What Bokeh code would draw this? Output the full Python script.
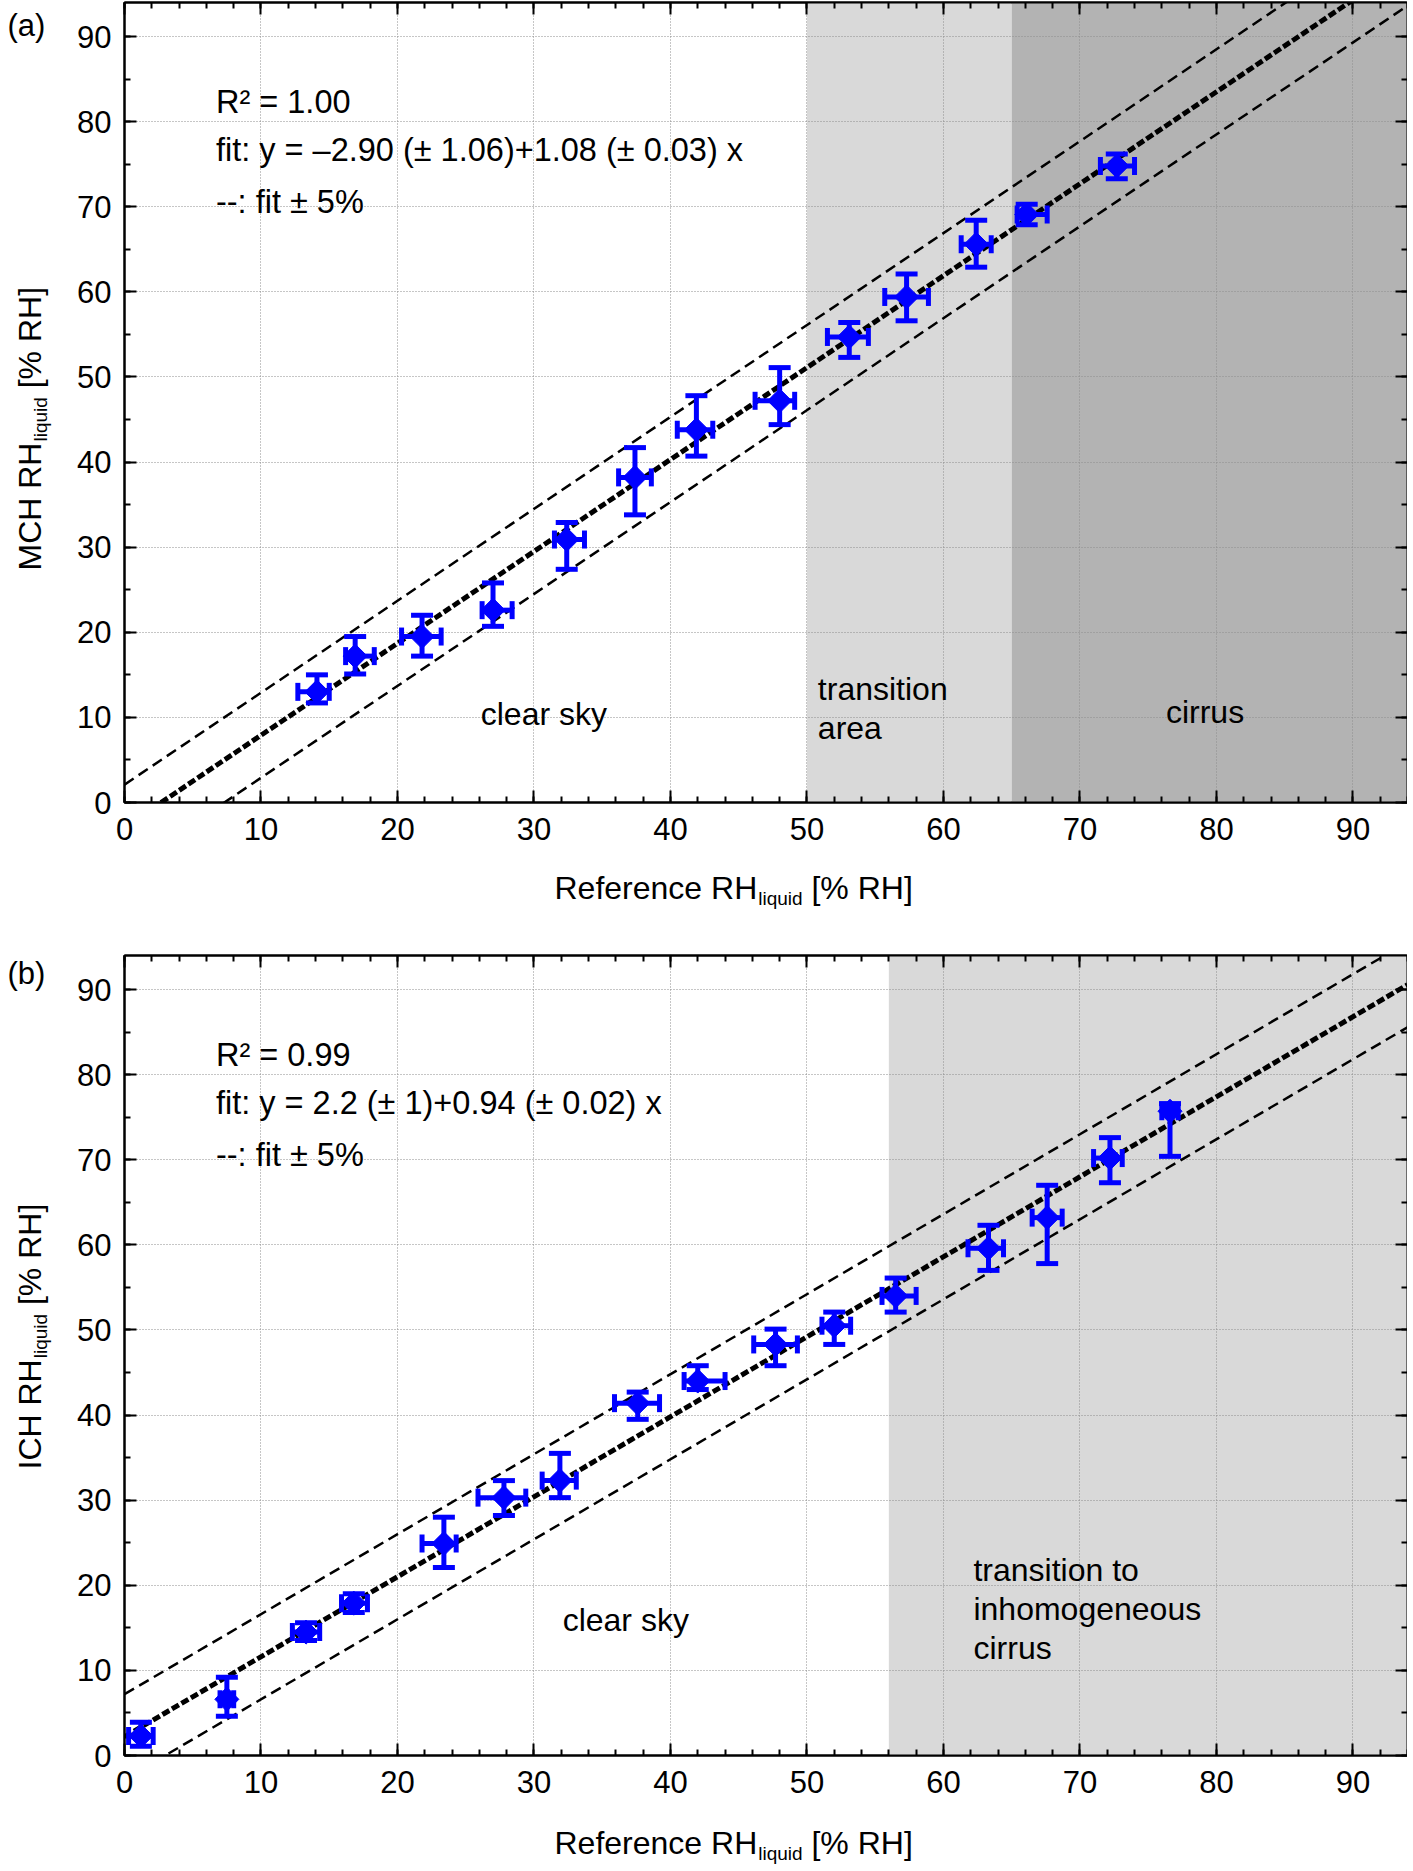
import numpy as np
from bokeh.plotting import figure
from bokeh.models import Label, LinearAxis, SingleIntervalTicker, CustomJSTickFormatter, Range1d
from bokeh.core.properties import value
from bokeh.layouts import column, row
from bokeh.embed import file_html
from bokeh.resources import INLINE

# ---------------- data: panel (a) MCH ----------------
a_x    = [14.1, 16.9, 21.8, 27.0, 32.4, 37.4, 41.9, 48.0, 53.1, 57.3, 62.4, 66.1, 72.7]
a_x_lo = [12.7, 16.2, 20.3, 26.2, 31.5, 36.2, 40.5, 46.2, 51.5, 55.7, 61.3, 65.4, 71.5]
a_x_hi = [15.0, 18.3, 23.2, 28.4, 33.7, 38.6, 43.1, 49.1, 54.5, 58.9, 63.5, 67.6, 74.0]
a_y    = [13.0, 17.2, 19.5, 22.6, 30.9, 38.2, 43.8, 47.2, 54.7, 59.4, 65.6, 69.1, 74.8]
a_y_lo = [11.7, 15.1, 17.2, 20.7, 27.4, 33.8, 40.7, 44.4, 52.3, 56.6, 62.9, 67.9, 73.3]
a_y_hi = [15.0, 19.5, 22.0, 25.8, 32.9, 41.7, 47.8, 51.1, 56.4, 62.1, 68.4, 70.3, 76.2]
a_fit = (-2.90, 1.08)
a_shade_from = [50, 65]
a_shade_to = [65, 94]
a_shade_color = ["#d9d9d9", "#b3b3b3"]

# ---------------- data: panel (b) ICH ----------------
b_x    = [1.2, 7.5, 13.3, 16.8, 23.4, 27.8, 31.9, 37.6, 42.0, 47.7, 52.0, 56.5, 63.3, 67.6, 72.2, 76.6]
b_x_lo = [0.3, 7.0, 12.3, 15.9, 21.8, 25.9, 30.6, 35.9, 41.0, 46.1, 51.1, 55.5, 61.8, 66.5, 71.0, 76.0]
b_x_hi = [2.1, 8.0, 14.3, 17.8, 24.3, 29.4, 33.1, 39.2, 44.0, 49.3, 53.2, 58.0, 64.4, 68.7, 73.1, 77.2]
b_y    = [2.3, 6.6, 14.5, 17.9, 24.9, 30.3, 32.3, 41.4, 44.0, 48.3, 50.5, 54.0, 59.6, 63.2, 70.2, 75.7]
b_y_lo = [1.1, 4.6, 13.5, 16.8, 22.1, 28.2, 30.3, 39.5, 43.0, 45.8, 48.3, 52.1, 57.0, 57.8, 67.3, 70.4]
b_y_hi = [3.9, 9.2, 15.6, 19.0, 28.0, 32.3, 35.5, 42.7, 45.8, 50.1, 52.1, 56.1, 62.3, 67.0, 72.6, 76.6]
b_fit = (2.2, 0.94)
b_shade_from = [56]
b_shade_to = [94]
b_shade_color = ["#d9d9d9"]

band = 5.0
axis_min, axis_max = 0, 94

FONT = "Liberation Sans"
BLUE = "#0000ff"
ASC = 0.905         # ascent of the font (em), used to place texts by their baseline

ARIAL = {' ': 278, 'R': 722, 'e': 556, 'f': 278, 'r': 333, 'n': 556, 'c': 500, 'H': 722,
         '[': 278, '%': 889, ']': 278, 'l': 222, 'i': 222, 'q': 556, 'u': 556, 'd': 556,
         'M': 833, 'C': 722, 'I': 278}

LAB_W = 60          # width of the y-label strip
FRAME_W = 1283
FRAME_H = 800
LEFT_BORDER = 64
BOTTOM_BORDER = 62
MAIN = 32
SUB = 19
PPU = FRAME_H / (axis_max - axis_min)   # pixels per data unit (vertical)


def tw(s, size):
    return sum(ARIAL.get(ch, 556) for ch in s) * size / 1000.0


def lab(p, x, y_base, text, size=MAIN, ppu=1.0):
    """Horizontal text whose baseline sits at y_base."""
    p.add_layout(Label(x=x, y=y_base + ASC * size / ppu, text=text, text_font=FONT,
                       text_font_size=f"{size}px", text_color="black",
                       text_align="left", text_baseline="top"))


def vtext(p, x_base, y_start, text, size):
    """Text rotated by 90 degrees whose baseline is the vertical line x = x_base."""
    p.text(x=[x_base - ASC * size], y=[y_start], text=[text], angle=np.pi / 2,
           text_font=value(FONT), text_font_size=value(f"{size}px"), text_color="black",
           text_align="left", text_baseline="top")


def blank_fig(w, h, yr):
    f = figure(width=w, height=h, x_range=Range1d(0, w), y_range=Range1d(0, yr),
               x_axis_type=None, y_axis_type=None, output_backend="svg",
               toolbar_location=None, min_border=0, outline_line_color=None,
               background_fill_color="white", border_fill_color="white")
    return f


def style_axis(ax, ticker, labels=True):
    ax.ticker = ticker
    ax.axis_label = None
    ax.axis_label_standoff = 0
    ax.major_tick_in = 12
    ax.major_tick_out = 0
    ax.minor_tick_in = 6
    ax.minor_tick_out = 0
    ax.major_tick_line_width = 2
    ax.minor_tick_line_width = 2
    ax.axis_line_width = 2
    ax.major_tick_line_color = "black"
    ax.minor_tick_line_color = "black"
    ax.axis_line_color = "black"
    if labels:
        ax.major_label_text_font = FONT
        ax.major_label_text_font_size = "31px"
        ax.major_label_text_color = "black"
    else:
        ax.formatter = CustomJSTickFormatter(code="return ''")
        ax.major_label_text_font_size = "0px"
        ax.major_label_standoff = 0


def make_panel(xs, xlo, xhi, ys, ylo, yhi, fit, sh_from, sh_to, sh_col,
               texts, region_texts, top_border):
    p = figure(frame_width=FRAME_W, frame_height=FRAME_H,
               x_range=Range1d(axis_min, axis_max), y_range=Range1d(axis_min, axis_max),
               output_backend="svg", toolbar_location=None,
               min_border_left=LEFT_BORDER, min_border_right=0,
               min_border_top=top_border, min_border_bottom=BOTTOM_BORDER,
               background_fill_color="white", border_fill_color="white",
               outline_line_color="black", outline_line_width=2)

    xt = SingleIntervalTicker(interval=10, num_minor_ticks=5)
    yt = SingleIntervalTicker(interval=10, num_minor_ticks=2)
    style_axis(p.xaxis[0], xt)
    style_axis(p.yaxis[0], yt)
    p.xaxis[0].major_label_standoff = 15
    p.yaxis[0].major_label_standoff = 13
    top = LinearAxis()
    style_axis(top, xt, labels=False)
    p.add_layout(top, "above")
    right = LinearAxis()
    style_axis(right, yt, labels=False)
    p.add_layout(right, "right")

    for g, t in ((p.xgrid[0], xt), (p.ygrid[0], yt)):
        g.ticker = t
        g.grid_line_color = "#8c8c8c"
        g.grid_line_dash = "1 2"
        g.grid_line_width = 1

    # shaded regimes
    p.quad(left=sh_from, right=sh_to, bottom=[axis_min] * len(sh_from), top=[axis_max] * len(sh_from),
           fill_color=sh_col, line_color=None, level="image")

    # fit and +-5% lines
    xl = np.array([axis_min, axis_max], dtype=float)
    yl = fit[0] + fit[1] * xl
    p.line(xl, yl + band, line_color="black", line_width=2.5, line_dash="11 6")
    p.line(xl, yl - band, line_color="black", line_width=2.5, line_dash="11 6")
    p.line(xl, yl, line_color="black", line_width=5, line_dash="8 3")

    # error bars
    p.segment(x0=xlo, y0=ys, x1=xhi, y1=ys, line_color=BLUE, line_width=5)
    p.segment(x0=xs, y0=ylo, x1=xs, y1=yhi, line_color=BLUE, line_width=5)
    p.scatter(xs, yhi, marker="dash", size=22, line_color=BLUE, line_width=5)
    p.scatter(xs, ylo, marker="dash", size=22, line_color=BLUE, line_width=5)
    p.scatter(xlo, ys, marker="dash", size=18, angle=np.pi / 2, line_color=BLUE, line_width=5)
    p.scatter(xhi, ys, marker="dash", size=18, angle=np.pi / 2, line_color=BLUE, line_width=5)
    p.scatter(xs, ys, marker="square", angle=np.pi / 4, size=17, fill_color=BLUE, line_color=BLUE)

    for (tx, ty, tt) in texts:
        lab(p, tx, ty, tt, size=32.5, ppu=PPU)
    for (tx, ty, tt) in region_texts:
        lab(p, tx, ty, tt, size=MAIN, ppu=PPU)
    return p


def ylabel_fig(height, main, start_above_bottom, tag, tag_top_above_bottom):
    # this strip shares the vertical frame of the panel next to it:
    # y is measured in pixels above the panel's frame bottom
    f = blank_fig(LAB_W, height, FRAME_H)
    base_x = 40
    w1 = tw(main, MAIN)
    w2 = tw("liquid", SUB)
    sp = tw(" ", MAIN)
    y0 = start_above_bottom
    vtext(f, base_x, y0, main, MAIN)
    vtext(f, base_x + 7, y0 + w1 + 1, "liquid", SUB)
    vtext(f, base_x, y0 + w1 + 1 + w2 + sp, "[% RH]", MAIN)
    f.add_layout(Label(x=7, y=tag_top_above_bottom, text=tag, text_font=FONT, text_font_size="31px",
                       text_color="black", text_align="left", text_baseline="top"))
    return f


def xlabel_fig(width, height, base_y):
    f = blank_fig(width, height, height)
    x0 = 554
    m1 = "Reference RH"
    w1 = tw(m1, MAIN)
    w2 = tw("liquid", SUB)
    sp = tw(" ", MAIN)
    lab(f, x0, base_y, m1)
    lab(f, x0 + w1 + 1, base_y - 7, "liquid", size=SUB)
    lab(f, x0 + w1 + 1 + w2 + sp, base_y, "[% RH]")
    return f


TOP_A = 2
TOP_B = 14
H_A = TOP_A + FRAME_H + BOTTOM_BORDER
H_B = TOP_B + FRAME_H + BOTTOM_BORDER
ROW_W = LAB_W + LEFT_BORDER + FRAME_W + 2
ROW_B_TOP = 941
XA_H = ROW_B_TOP - H_A
XB_H = 1867 - (ROW_B_TOP + H_B)
FRAME_A_BOTTOM = TOP_A + FRAME_H                 # page y of frame (a) bottom
FRAME_B_BOTTOM = ROW_B_TOP + TOP_B + FRAME_H     # page y of frame (b) bottom

pa = make_panel(a_x, a_x_lo, a_x_hi, a_y, a_y_lo, a_y_hi, a_fit,
                a_shade_from, a_shade_to, a_shade_color,
                [(6.7, 81.0, "R² = 1.00"),
                 (6.7, 75.3, "fit: y = –2.90 (± 1.06)+1.08 (± 0.03) x"),
                 (6.7, 69.2, "--: fit ± 5%")],
                [(26.1, 9.1, "clear sky"),
                 (50.8, 12.1, "transition"),
                 (50.8, 7.5, "area"),
                 (76.3, 9.3, "cirrus")],
                TOP_A)

pb = make_panel(b_x, b_x_lo, b_x_hi, b_y, b_y_lo, b_y_hi, b_fit,
                b_shade_from, b_shade_to, b_shade_color,
                [(6.7, 81.0, "R² = 0.99"),
                 (6.7, 75.3, "fit: y = 2.2 (± 1)+0.94 (± 0.02) x"),
                 (6.7, 69.2, "--: fit ± 5%")],
                [(32.1, 14.6, "clear sky"),
                 (62.2, 20.5, "transition to"),
                 (62.2, 15.9, "inhomogeneous"),
                 (62.2, 11.3, "cirrus")],
                TOP_B)

ya = ylabel_fig(H_A, "MCH RH", FRAME_A_BOTTOM - 570, "(a)", FRAME_A_BOTTOM - 7.5)
yb = ylabel_fig(H_B, "ICH RH", FRAME_B_BOTTOM - 1469, "(b)", FRAME_H)
xa = xlabel_fig(ROW_W, XA_H, ROW_B_TOP - 898)
xb = xlabel_fig(ROW_W, XB_H, XB_H - (1853 - ROW_B_TOP - H_B))

layout = column(row(ya, pa, spacing=0), xa, row(yb, pb, spacing=0), xb, spacing=0)
open("out.html", "w").write(file_html(layout, INLINE))
